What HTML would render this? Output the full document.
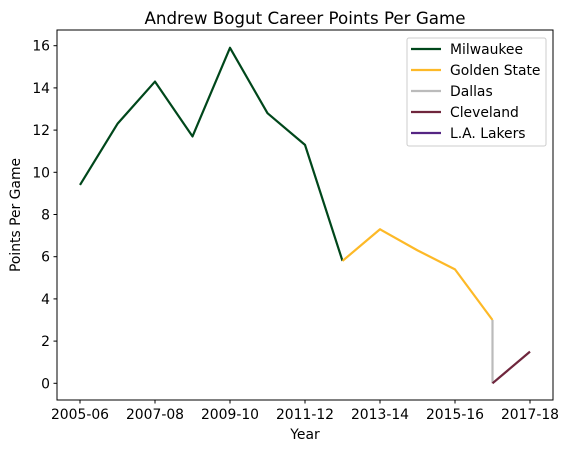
<!DOCTYPE html>
<html><head><meta charset="utf-8"><style>
body{margin:0;background:#fff}
svg text{font-family:"DejaVu Sans","Liberation Sans",sans-serif;fill:#000}
</style></head><body>
<svg id="chart" width="569" height="453" xmlns="http://www.w3.org/2000/svg">
<rect width="569" height="453" fill="#fff"/>
<text x="305" y="24" font-size="16.7" text-anchor="middle">Andrew Bogut Career Points Per Game</text>
<g id="grid"></g>
<g id="series"></g>
<rect x="57" y="30" width="496" height="370" fill="none" stroke="#000" stroke-width="1"/>
<text x="305" y="439" font-size="13.9" text-anchor="middle">Year</text>
<text x="20" y="215" font-size="13.9" text-anchor="middle" transform="rotate(-90 20 215)">Points Per Game</text>
<g id="legend"></g>
</svg>
<script>
const seasons=["2005-06","2006-07","2007-08","2008-09","2009-10","2010-11","2011-12","2012-13","2013-14","2014-15","2015-16","2016-17","2017-18"];
const xTickLabels=["2005-06","2007-08","2009-10","2011-12","2013-14","2015-16","2017-18"];
const yTicks=[0,2,4,6,8,10,12,14,16];
const teams=["Milwaukee","Golden State","Dallas","Cleveland","L.A. Lakers"];
const colors=["#00471b","#fdb927","#bbbbbb","#6f263d","#552583"];
const milwaukeeX=[0,1,2,3,4,5,6,7];
const milwaukeeY=[9.4,12.3,14.3,11.7,15.9,12.8,11.3,5.8];
const goldenStateX=[7,8,9,10,11];
const goldenStateY=[5.8,7.3,6.3,5.4,3.0];
const dallasX=[11,11];
const dallasY=[3.0,0.0];
const clevelandX=[11,12];
const clevelandY=[0.0,1.5];
const lakersX=[12];
const lakersY=[1.5];
const seriesX=[milwaukeeX,goldenStateX,dallasX,clevelandX,lakersX];
const seriesY=[milwaukeeY,goldenStateY,dallasY,clevelandY,lakersY];
const NS="http://www.w3.org/2000/svg";
const xs=i=>80+i*37.5;
const ys=v=>383.3-v*21.1;
function mk(t,a,p){const e=document.createElementNS(NS,t);for(const k in a)e.setAttribute(k,a[k]);p.appendChild(e);return e;}
const g=document.getElementById('grid');
yTicks.forEach(v=>{
 const l=mk('line',{x1:53.5,x2:57,y1:ys(v),y2:ys(v),stroke:'#000'},g);
 
 
 const t=mk('text',{x:50,y:ys(v)+5,'font-size':13.9,'text-anchor':'end'},g);t.textContent=v;
 
 
});
xTickLabels.forEach(lab=>{
 const i=seasons.indexOf(lab);
 const l=mk('line',{x1:xs(i),x2:xs(i),y1:400,y2:403.5,stroke:'#000'},g);
 
 
 const t=mk('text',{x:xs(i),y:419,'font-size':13.9,'text-anchor':'middle'},g);t.textContent=lab;
 
 
});
const s=document.getElementById('series');
teams.forEach((tm,k)=>{
 const pts=seriesX[k].map((x,j)=>xs(x)+','+ys(seriesY[k][j])).join(' ');
 const p=mk('polyline',{points:pts,fill:'none',stroke:colors[k],'stroke-width':2.2,'stroke-linejoin':'round'},s);
 
 
});
const lg=document.getElementById('legend');
const box=mk('rect',{x:407,y:38,width:139,height:108,rx:2,fill:'#fff','fill-opacity':0.8,stroke:'#ccc'},lg);


teams.forEach((tm,k)=>{
 const y=49+k*21;
 const l=mk('line',{x1:411,x2:441,y1:y,y2:y,stroke:colors[k],'stroke-width':2.2},lg);
 
 
 const t=mk('text',{x:450,y:y+5,'font-size':13.9},lg);t.textContent=tm;
 
 
});
</script>
</body></html>
